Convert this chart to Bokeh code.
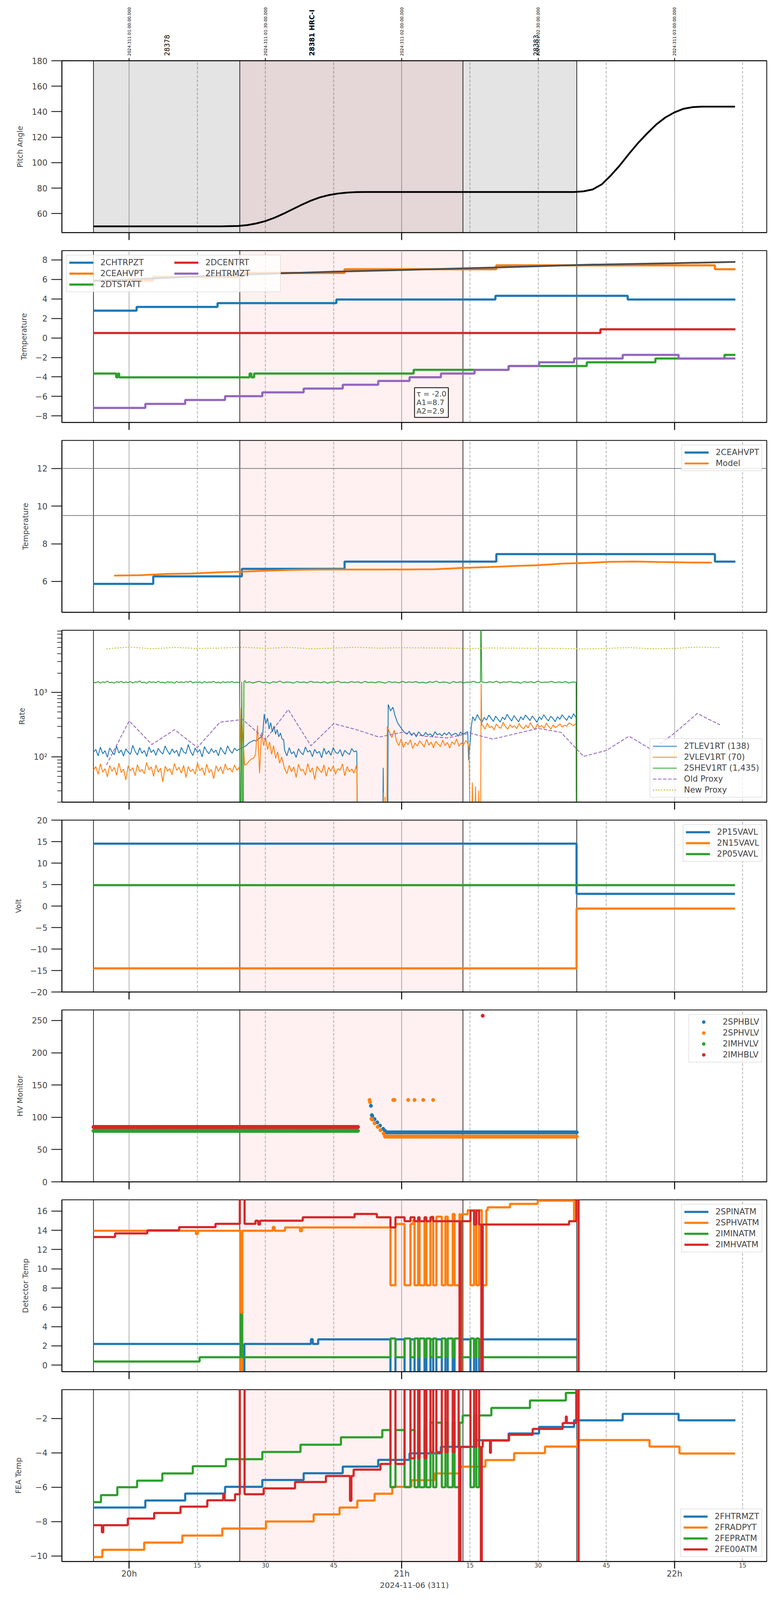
import math
import bisect
import numpy as np
from bokeh.plotting import figure
from bokeh.layouts import column
from bokeh.models import (FixedTicker, LinearAxis, Range1d, Span, BoxAnnotation,
                          Label, Legend, LegendItem)
from bokeh.core.properties import value
from bokeh.embed import file_html
from bokeh.resources import INLINE

FONT = "DejaVu Sans"
BLUE, ORANGE, GREEN, RED, PURPLE, OLIVE = "#1f77b4", "#ff7f0e", "#2ca02c", "#d62728", "#9467bd", "#bcbd22"
NAN = float("nan")

# ---------------- time axis (minutes after 2024-11-06 20:00) ----------------
X_RANGE = (-14.8, 140.3)
HOUR_TICKS = [0, 60, 120]
HOUR_LABELS = ["20h", "21h", "22h"]
MINUTE_TICKS = [15, 30, 45, 75, 90, 105, 135]
MINUTE_LABELS = ["15", "30", "45", "15", "30", "45", "15"]
TOP_TICKS = [0, 30, 60, 90, 120]
TOP_LABELS = ["2024:311:01:00:00.000", "2024:311:01:30:00.000", "2024:311:02:00:00.000",
              "2024:311:02:30:00.000", "2024:311:03:00:00.000"]
DATE_LABEL = "2024-11-06 (311)"

OBS_EDGES = [-7.85, 24.35, 73.45, 98.5]
GRAY_SPAN = (-7.85, 98.5)
HRC_SPAN = (24.35, 73.45)
OBSIDS = ["28378", "28381 HRC-I", "28383"]
OBSID_X = [8.3, 40.2, 89.5]
OBSID_BOLD = [False, True, False]

# ---------------- panel 1: pitch ----------------
PITCH_T = [-7.85, 20, 24, 26, 28, 30, 32, 34, 36, 38, 40, 42, 44, 46, 48, 50, 52, 98,
           100, 102, 104, 106, 108, 110, 112, 114, 116, 118, 120, 122, 124, 126, 133.3]
PITCH_V = [50, 50, 50.3, 51, 52.3, 54.2, 56.8, 60, 63.5, 67, 70.2, 72.8, 74.6, 75.8, 76.5, 76.9, 77, 77,
           77.5, 79, 83, 90, 98, 107, 115.5, 123, 130, 135.5, 139.5, 142.3, 143.6, 144, 144]

# ---------------- panel 2: temperatures ----------------
CHTRPZT_T = [-7.85, 1.64, 19.45, 45.6, 80.6, 109.7, 133.4]
CHTRPZT_V = [2.8, 3.18, 3.57, 3.94, 4.32, 3.94]
CEAHVPT_T = [-7.85, 5.3, 24.8, 47.4, 80.8, 128.9, 133.4]
CEAHVPT_V = [5.87, 6.27, 6.67, 7.05, 7.45, 7.05]
DTSTATT_T = [-7.85, -2.85, -2.5, -2.2, 26.5, 26.9, 27.5, 62.6, 83.5, 100.7, 115.8, 131.0, 133.4]
DTSTATT_V = [-3.65, -4.04, -3.65, -4.04, -3.65, -4.04, -3.65, -3.27, -2.88, -2.5, -2.11, -1.74]
DCENTRT_T = [-7.85, 103.7, 133.4]
DCENTRT_V = [0.51, 0.89]
FHTRMZT_T = [-7.85, 3.56, 12.33, 21.1, 29.3, 38.4, 47.0, 54.8, 61.7, 68.6, 76.0, 83.5, 90.2,
             97.9, 108.6, 120.9, 133.4]
FHTRMZT_V = [-7.18, -6.77, -6.37, -5.98, -5.58, -5.19, -4.8, -4.41, -4.03, -3.65, -3.27, -2.88,
             -2.5, -2.11, -1.74, -2.11]
FIT_T = [-7.85, 5, 25, 45, 60, 80, 100, 120, 133.4]
FIT_V = [5.85, 6.1, 6.5, 6.8, 6.97, 7.22, 7.5, 7.67, 7.8]
FIT_TEXT = "τ = -2.0\nA1=8.7\nA2=2.9"

# ---------------- panel 3: 2CEAHVPT vs model ----------------
MODEL_T = [-3.3, 2.5, 8.2, 13.7, 19.2, 24.7, 30.1, 35.6, 41.1, 46.6, 56.4, 67.4, 73.4, 78.9,
           84.4, 89.9, 95.4, 100.3, 105.8, 111.2, 116.7, 122.2, 128.2]
MODEL_V = [6.31, 6.33, 6.40, 6.42, 6.48, 6.52, 6.57, 6.61, 6.63, 6.63, 6.63, 6.65, 6.72, 6.76,
           6.82, 6.86, 6.95, 6.98, 7.04, 7.06, 7.03, 7.01, 7.0]
LIMIT_LINES = [12.0, 9.5]

# ---------------- panel 4: rates ----------------
TLEV_S1 = [118, 131, 104, 142, 112, 125, 99, 137, 121, 108, 146, 115, 128, 103, 134, 119, 110, 151,
           122, 107, 139, 114, 126, 101, 143, 117, 129, 106, 136, 120, 111, 148, 124, 109, 133, 116,
           127, 102, 141, 119, 113, 156, 121, 105, 138, 118, 130, 100, 145, 123, 112, 135, 117, 128,
           104, 140, 122, 110, 149, 126, 114, 137, 125, 132]
TLEV_S2 = [150, 160, 168, 172, 178, 182, 176, 186, 195, 205, 215, 462, 330, 398, 270, 340, 245, 300,
           225, 265, 205, 235, 190, 185]
TLEV_S3 = [128, 104, 139, 112, 121, 98, 134, 117, 108, 143, 119, 126, 101, 131, 114, 122, 97, 137,
           110, 125, 106, 140, 118, 113, 130, 102, 127, 116, 109, 135, 120, 124]
TLEV_S4 = [650, 520, 590, 430, 340, 300, 265, 240, 225, 250, 215, 238, 205, 245, 222, 212, 240, 218,
           228, 208, 247, 220, 230, 212, 236, 219, 242, 214, 226, 233, 210, 244, 221, 238, 246]
TLEV_S6 = [420, 365, 455, 390, 340, 410, 372, 445, 398, 355, 430, 385, 348, 415, 378, 460, 402, 361,
           438, 392, 350, 420, 376, 447, 405, 366, 432, 388, 345, 418, 380, 452, 400, 362, 428, 394,
           353, 421, 383, 449, 407, 369, 435, 391, 470, 410]
VLEV_S1 = [62, 71, 54, 78, 58, 66, 49, 74, 60, 69, 52, 80, 57, 65, 44, 73, 61, 68, 51, 76, 59, 64,
           55, 82, 63, 70, 50, 75, 58, 67, 41, 72, 60, 66, 53, 79, 62, 69, 56, 74, 48, 71, 59, 65,
           54, 81, 61, 68, 52, 77, 57, 64, 46, 73, 60, 70, 55, 78, 63, 67, 58, 75, 62, 69]
VLEV_S3 = [75, 80, 88, 93, 95, 110, 308, 56, 240, 150, 200, 130, 170, 110, 150, 95, 120, 80, 100, 75]
VLEV_S4 = [66, 55, 74, 59, 70, 48, 77, 61, 64, 52, 79, 58, 68, 45, 72, 63, 57, 75, 50, 69, 60, 73,
           54, 66, 62, 78, 51, 71, 59, 65, 56, 74]
VLEV_S5 = [295, 240, 200, 260, 175, 150, 190, 140, 170, 155, 185, 135, 165, 148, 178, 160, 142, 188,
           152, 170, 138, 175, 158, 145, 182, 150, 168, 137, 172, 156, 190, 147, 165, 153, 180, 160]
VLEV_S7 = [310, 270, 335, 285, 300, 262, 325, 292, 278, 345, 298, 268, 318, 287, 305, 275, 330, 290,
           272, 312, 282, 340, 295, 265, 322, 288, 308, 278, 335, 298, 270, 315, 285, 302, 326, 290,
           312, 300, 338, 320, 305, 330]
SHEV_S1 = [1450, 1410, 1480, 1395, 1460, 1430, 1500, 1420, 1445, 1390, 1470, 1435, 1490, 1405, 1455,
           1425, 1475, 1400, 1465, 1440, 1510, 1415, 1450, 1385, 1480, 1430, 1460, 1410, 1495, 1420,
           1445, 1400, 1470, 1435, 1455, 1390, 1485, 1425, 1460, 1415, 1475, 1440, 1500, 1405, 1450,
           1430, 1465, 1395, 1480, 1420, 1455, 1435, 1490, 1410, 1445, 1400, 1470, 1425, 1460, 1440,
           1475, 1415, 1450, 1430]
SHEV_S3 = [1420, 1465, 1400, 1450, 1490, 1415, 1445, 1385, 1470, 1430, 1505, 1410, 1455, 1440, 1395,
           1480, 1425, 1460, 1405, 1490, 1435, 1450, 1415, 1470, 1390, 1455, 1430, 1500, 1420, 1445,
           1410, 1475, 1435, 1460, 1400, 1485, 1425, 1450, 1415, 1470, 1440, 1395, 1480, 1430, 1455,
           1405, 1490, 1420, 1460, 1435, 1475, 1410, 1445, 1400, 1470, 1430, 1500, 1415, 1455, 1440,
           1385, 1480, 1425, 1465, 1410, 1450, 1435, 1490, 1420, 1445]
SHEV_S5 = [1450, 1415, 1470, 1430, 1495, 1405, 1460, 1440, 1480, 1420, 1455, 1390, 1475, 1435, 1465,
           1410, 1500, 1425, 1450, 1440, 1485, 1415, 1460, 1430, 1470, 1405, 1455, 1445]

TLEV_SEGS = [(-7.85, 24.2, TLEV_S1), (25.8, 34.0, TLEV_S2), (34.2, 50.0, TLEV_S3),
             (50.1, 50.3, [118, 1]), (50.4, 50.4, [NAN]), (55.7, 56.1, [1, 68, 1]),
             (56.3, 56.3, [NAN]), (56.85, 56.85, [1]), (57.0, 74.5, TLEV_S4),
             (74.7, 75.3, [89, 300]), (75.6, 98.3, TLEV_S6), (98.35, 98.45, [410, 1])]
VLEV_SEGS = [(-7.85, 24.2, VLEV_S1), (24.3, 25.4, [60, 580, 200, 75]), (25.6, 34.0, VLEV_S3),
             (34.2, 50.0, VLEV_S4), (50.1, 50.3, [60, 1]), (50.4, 50.4, [NAN]),
             (55.8, 56.5, [1, 28, 1, 24, 1]), (56.55, 56.55, [NAN]), (56.65, 56.65, [1]),
             (56.8, 74.6, VLEV_S5), (74.8, 77.3, [130, 1, 40, 1, 35, 1, 30, 1]),
             (77.45, 77.6, [1370, 310]), (77.8, 98.3, VLEV_S7), (98.35, 98.45, [330, 1])]
SHEV_SEGS = [(-7.85, 24.2, SHEV_S1), (24.3, 25.5, [1440, 1, 1460, 1, 1480, 1530]),
             (25.7, 77.3, SHEV_S3), (77.4, 77.6, [20000, 1450]), (77.8, 98.3, SHEV_S5),
             (98.35, 98.45, [1440, 1])]
PROXY_T = [-5, 0, 5, 10, 15, 20, 25, 30, 35, 40, 45, 50, 55, 60, 65, 70, 75, 80, 85, 90, 95, 100,
           105, 110, 115, 120, 125, 130]
OLD_PROXY = [75, 362, 156, 265, 140, 346, 381, 185, 543, 149, 329, 265, 203, 240, 210, 197, 234,
             189, 229, 277, 241, 102, 126, 210, 129, 234, 472, 315]
NEW_PROXY = [4764, 5058, 4764, 4993, 4823, 4883, 5035, 4823, 5014, 4764, 4883, 5035, 4863, 4953,
             4903, 4883, 4804, 4903, 4863, 4843, 4823, 4723, 4823, 4973, 4764, 4823, 5058, 4973]

# ---------------- panel 5: voltages ----------------
P15_T, P15_V = [-7.85, 98.45, 133.3], [14.53, 2.83]
N15_T, N15_V = [-7.85, 98.45, 133.3], [-14.5, -0.58]
P05_T, P05_V = [-7.85, 133.3], [4.86]

# ---------------- panel 6: HV monitor (scatter) ----------------
IMHBLV_SEG, IMHBLV_PT_T, IMHBLV_PT_V = (-7.85, 50.4, 85.0), [77.8], [257.3]
IMHVLV_SEG = (-7.85, 50.4, 79.0)
SPHBLV_SEG = (56.5, 98.6, 76.7)
SPHBLV_PT_T = [53.2, 53.4, 53.5, 54.0, 54.6, 55.2, 55.9, 56.3]
SPHBLV_PT_V = [117.8, 103.4, 102.0, 97.1, 92.1, 87.1, 82.1, 79.0]
SPHVLV_SEG = (56.3, 98.6, 70.1)
SPHVLV_PT_T = [52.9, 53.0, 53.3, 53.5, 54.0, 54.7, 55.3, 56.0, 58.1, 58.4, 61.4, 62.8, 64.7, 66.9]
SPHVLV_PT_V = [126.9, 123.5, 97.5, 96.3, 90.8, 85.2, 80.1, 74.7, 126.9, 126.9, 126.9, 126.9, 126.9, 126.9]
SAMPLE_STEP = 0.2

# ---------------- panel 7: detector temps ----------------
SPIKES = [(57.5, 58.6), (60.6, 61.9), (62.8, 63.6), (63.9, 65.0), (65.4, 66.3), (66.9, 67.6),
          (68.8, 69.6), (70.1, 71.2), (71.6, 72.7), (75.1, 75.9), (76.4, 77.0)]
SPINATM_T = [-7.85, 40.0, 40.4, 41.6, 98.4]
SPINATM_V = [2.2, 2.7, 2.2, 2.68]
SPINATM_SPIKE = -1.5
SPHVATM_T = [-7.85, 14.7, 15.1, 31.6, 32.0, 34.3, 37.6, 38.0, 57.5, 62.5, 66.5, 70.1, 73.1, 74.5,
             78.9, 83.8, 89.9, 97.9, 98.4]
SPHVATM_V = [13.96, 13.6, 13.96, 14.35, 13.96, 14.3, 13.9, 14.3, 14.65, 15.05, 15.42, 15.7, 15.67,
             16.1, 16.39, 16.74, 17.09, 15.0]
SPHVATM_EXTRA = [(24.55, 24.9, -1.5), (72.75, 73.1, -1.5), (77.6, 78.6, 8.3)]
SPHVATM_SPIKE = 8.3
IMINATM_T = [-7.85, 15.5, 98.4]
IMINATM_V = [0.37, 0.82]
IMINATM_EXTRA = [(24.5, 24.85, 5.25)]
IMINATM_SPIKE = 2.77
IMHVATM_T = [-7.85, -3.1, 4.0, 11.0, 19.0, 27.8, 38.2, 49.6, 54.5, 57.5, 58.6, 75.6, 96.8, 99.4]
IMHVATM_V = [13.31, 13.68, 14.0, 14.33, 14.67, 15.0, 15.35, 15.7, 15.35, 14.3, 14.95, 14.6, 14.95]
IMHVATM_EXTRA = [(24.35, 25.4, 30), (28.4, 28.8, 14.6), (58.6, 60.6, 15.35), (61.9, 62.8, 15.35),
                 (63.6, 63.9, 15.35), (65.0, 65.4, 15.35), (66.3, 66.9, 15.35), (72.7, 73.0, -1.5),
                 (75.1, 75.9, 16.05), (76.4, 77.0, 16.05), (77.5, 77.8, -1.5), (98.4, 98.9, 30),
                 (98.9, 99.4, -1.5)]

# ---------------- panel 8: FEA temps ----------------
FRADPYT_T = [-7.85, -5.9, 3.3, 11.7, 20.5, 30.1, 40.6, 46.3, 50.2, 54.0, 57.9, 62.1, 67.2, 72.9,
             78.4, 84.7, 91.5, 98.6, 114.5, 121.1, 133.3]
FRADPYT_V = [-10.06, -9.64, -9.22, -8.81, -8.40, -7.99, -7.58, -7.18, -6.78, -6.38, -5.98, -5.59,
             -5.20, -4.81, -4.42, -4.02, -3.64, -3.26, -3.64, -4.04]
FEPRATM_T = [-7.85, -6.2, -2.6, 1.75, 7.3, 14.0, 21.3, 29.3, 37.7, 46.6, 55.7, 66.3, 73.4, 79.7,
             88.2, 96.1, 98.4, 98.5]
FEPRATM_V = [-6.87, -6.46, -6.0, -5.62, -5.20, -4.78, -4.37, -3.95, -3.53, -3.10, -2.68, -2.25,
             -1.83, -1.39, -0.96, -0.52, -2.1]
FEPRATM_SPIKE = -6.0
FE00ATM_T = [-7.85, -0.3, 5.5, 11.3, 17.2, 23.3, 29.6, 36.5, 43.3, 49.4, 55.3, 61.4, 66.3, 71.8,
             77.8, 83.6, 88.8, 95.4, 99.4]
FE00ATM_V = [-8.21, -7.82, -7.50, -7.13, -6.76, -6.41, -6.07, -5.70, -5.35, -4.98, -4.65, -4.32,
             -3.96, -3.66, -3.29, -2.95, -2.61, -2.27]
FE00ATM_EXTRA = [(-6.0, -5.7, -8.62), (20.7, 21.0, -6.38), (24.35, 25.4, 5), (48.6, 48.9, -6.79),
                 (57.5, 58.6, 5), (60.6, 61.9, 5), (62.8, 63.6, 5), (63.9, 65.0, 5), (65.4, 66.3, 5),
                 (66.9, 67.6, 5), (68.8, 69.6, 5), (70.1, 71.2, 5), (71.6, 72.5, 5),
                 (72.6, 72.9, -12), (75.1, 75.9, 5), (76.4, 77.0, 5), (77.4, 77.6, -12),
                 (79.4, 79.6, -4.0), (96.1, 96.3, -1.89), (98.4, 98.9, 5), (98.9, 99.4, -12)]

# ---------------- layout (the photographed viewport is only ~4100 px tall) ----------------
FRAME_W, FRAME_H = 1805, 440
HEADER_H, P1_TOP = 146, 9
GAP_TOP, GAP_BOTTOM, LAST_BOTTOM = 22, 24, 70
LW = 5.5          # thick telemetry lines
TXT = "21px"      # tick / legend text
AX_TXT = "19px"   # rotated axis titles


# ---------------- helpers ----------------
def overlay(breaks, vals, windows):
    pts = sorted(set(breaks) | {w[0] for w in windows} | {w[1] for w in windows})
    pts = [t for t in pts if breaks[0] <= t <= breaks[-1]]
    out = []
    for a, b in zip(pts[:-1], pts[1:]):
        mid = 0.5 * (a + b)
        v = None
        for (t0, t1, wv) in windows:
            if t0 <= mid <= t1:
                v = wv
        if v is None:
            v = vals[min(bisect.bisect_right(breaks, mid) - 1, len(vals) - 1)]
        out.append(v)
    return pts, out


def stair(breaks, vals, windows=()):
    if windows:
        breaks, vals = overlay(breaks, vals, list(windows))
    xs, ys = [], []
    for i, v in enumerate(vals):
        xs += [breaks[i], breaks[i + 1]]
        ys += [v, v]
    return xs, ys


def segments(segs):
    xs, ys = [], []
    for t0, t1, vals in segs:
        if len(vals) == 1:
            xs.append(t0)
            ys.append(vals[0])
        else:
            xs += list(np.linspace(t0, t1, len(vals)))
            ys += list(vals)
    return xs, ys


def sampled(seg, pt_t=(), pt_v=()):
    t0, t1, v = seg
    xs = list(np.arange(t0, t1 + 1e-9, SAMPLE_STEP))
    ys = [v] * len(xs)
    return xs + list(pt_t), ys + list(pt_v)


def fmt(v):
    return ("%g" % v).replace("-", "\u2212")


X_SHARED = Range1d(*X_RANGE)


def make_fig(yr, ylabel, yticks, first=False, last=False, log=False, yminor=None):
    p = figure(frame_width=FRAME_W, frame_height=FRAME_H,
               x_range=X_SHARED, y_range=Range1d(*yr),
               y_axis_type="log" if log else "linear",
               output_backend="svg", toolbar_location=None,
               min_border_left=158, min_border_right=21,
               min_border_top=P1_TOP if first else GAP_TOP,
               min_border_bottom=LAST_BOTTOM if last else GAP_BOTTOM)
    p.background_fill_color = "white"
    p.border_fill_color = "white"
    p.outline_line_color = "black"
    p.outline_line_width = 2
    p.ygrid.grid_line_color = None
    p.xgrid.ticker = FixedTicker(ticks=HOUR_TICKS, minor_ticks=MINUTE_TICKS)
    p.xgrid.grid_line_color = "#b0b0b0"
    p.xgrid.grid_line_width = 2
    p.xgrid.minor_grid_line_color = "#b0b0b0"
    p.xgrid.minor_grid_line_width = 2
    p.xgrid.minor_grid_line_dash = "7 4"

    ya = p.yaxis[0]
    ya.ticker = FixedTicker(ticks=yticks, minor_ticks=yminor or [])
    if not log:
        ya.major_label_overrides = {t: fmt(t) for t in yticks}
    ya.axis_label = ylabel
    ya.axis_label_text_font = FONT
    ya.axis_label_text_font_size = AX_TXT
    ya.axis_label_text_font_style = "normal"
    ya.axis_label_standoff = 16
    ya.major_label_text_font = FONT
    ya.major_label_text_font_size = TXT
    ya.major_label_standoff = 10
    ya.major_tick_out = 27
    ya.major_tick_in = 0
    ya.major_tick_line_width = 2
    ya.minor_tick_out = 12 if log else 0
    ya.minor_tick_in = 0
    ya.minor_tick_line_width = 1.6
    ya.axis_line_width = 2

    xa = p.xaxis[0]
    xa.axis_line_width = 2
    if not last:
        xa.ticker = FixedTicker(ticks=HOUR_TICKS)
        xa.major_label_overrides = {t: "" for t in HOUR_TICKS}
        xa.major_label_text_font_size = "1px"
        xa.major_label_standoff = 0
        xa.major_tick_out = 19
        xa.major_tick_in = 0
        xa.major_tick_line_width = 2.5
        xa.minor_tick_out = 0
        xa.minor_tick_in = 0
    else:
        xa.ticker = FixedTicker(ticks=MINUTE_TICKS)
        xa.major_label_overrides = dict(zip(MINUTE_TICKS, MINUTE_LABELS))
        xa.major_label_text_font = FONT
        xa.major_label_text_font_size = "15px"
        xa.major_label_standoff = 3
        xa.major_tick_out = 0
        xa.major_tick_in = 0
        xa.minor_tick_out = 0
        xa.minor_tick_in = 0
        xb = LinearAxis(ticker=FixedTicker(ticks=HOUR_TICKS),
                        major_label_overrides=dict(zip(HOUR_TICKS, HOUR_LABELS)),
                        major_label_text_font=FONT, major_label_text_font_size=TXT,
                        major_tick_in=20, major_tick_out=0, major_tick_line_width=2.5,
                        minor_tick_in=0, minor_tick_out=0,
                        axis_line_color=None, major_label_standoff=1,
                        axis_label=DATE_LABEL, axis_label_text_font=FONT,
                        axis_label_text_font_size="20px", axis_label_text_font_style="normal",
                        axis_label_standoff=2)
        p.add_layout(xb, "below")

    if first:
        p.add_layout(BoxAnnotation(left=GRAY_SPAN[0], right=GRAY_SPAN[1], fill_color="black",
                                   fill_alpha=0.105, line_color=None, level="underlay"))
    p.add_layout(BoxAnnotation(left=HRC_SPAN[0], right=HRC_SPAN[1], fill_color="red",
                               fill_alpha=0.055, line_color=None, level="underlay"))
    for t in OBS_EDGES:
        p.add_layout(Span(location=t, dimension="height", line_color="black",
                          line_width=1.6, level="underlay"))
    return p


def add_legend(p, items, location, ncols=None, label_width=20):
    kw = dict(ncols=ncols) if ncols else {}
    lg = Legend(items=[LegendItem(label=l, renderers=[r]) for l, r in items],
                location=location, label_text_font=FONT, label_text_font_size=TXT,
                glyph_width=62, glyph_height=20, label_height=20, label_standoff=18,
                label_width=label_width, spacing=4, padding=6, margin=11,
                border_line_color="#cccccc", border_line_width=2,
                background_fill_color="white", background_fill_alpha=0.8, **kw)
    p.add_layout(lg)
    return lg


figs = []

# ---- header: UTC tick labels and obsids above panel 1 ----
hdr = figure(frame_width=FRAME_W, frame_height=HEADER_H, x_range=X_SHARED,
             y_range=Range1d(0, HEADER_H), output_backend="svg", toolbar_location=None,
             x_axis_location=None, y_axis_location=None,
             min_border_left=158, min_border_right=21, min_border_top=0, min_border_bottom=0)
hdr.outline_line_color = None
hdr.grid.visible = False
hdr.background_fill_color = "white"
hdr.border_fill_color = "white"
hdr.text(x=TOP_TICKS, y=[3.5] * len(TOP_TICKS), text=TOP_LABELS, angle=math.pi / 2,
         text_align="left", text_baseline="middle", text_font=value(FONT),
         text_font_size="10.5px", text_color="black")
for name, x, bold in zip(OBSIDS, OBSID_X, OBSID_BOLD):
    hdr.text(x=[x], y=[3.5], text=[name], angle=math.pi / 2, text_align="left",
             text_baseline="middle", text_font=value(FONT), text_font_size="17px",
             text_font_style="bold" if bold else "normal", text_color="black")
figs.append(hdr)

# ---- panel 1 ----
p1 = make_fig((45.1, 180), "Pitch Angle", [60, 80, 100, 120, 140, 160, 180], first=True)
top = LinearAxis(ticker=FixedTicker(ticks=TOP_TICKS),
                 major_label_overrides={t: "" for t in TOP_TICKS},
                 major_label_text_font_size="1px",
                 major_tick_out=7, major_tick_in=0, major_tick_line_width=2,
                 minor_tick_out=0, minor_tick_in=0, major_label_standoff=0, axis_line_width=2)
p1.add_layout(top, "above")
p1.line(PITCH_T, PITCH_V, line_color="black", line_width=4.5)
figs.append(p1)

# ---- panel 2 ----
p2 = make_fig((-8.67, 8.96), "Temperature", [-8, -6, -4, -2, 0, 2, 4, 6, 8])
r_ch = p2.line(*stair(CHTRPZT_T, CHTRPZT_V), line_color=BLUE, line_width=LW)
r_ce = p2.line(*stair(CEAHVPT_T, CEAHVPT_V), line_color=ORANGE, line_width=LW)
r_dt = p2.line(*stair(DTSTATT_T, DTSTATT_V), line_color=GREEN, line_width=LW)
r_dc = p2.line(*stair(DCENTRT_T, DCENTRT_V), line_color=RED, line_width=LW)
r_fh = p2.line(*stair(FHTRMZT_T, FHTRMZT_V), line_color=PURPLE, line_width=LW)
p2.line(FIT_T, FIT_V, line_color="#4d4d4d", line_width=4.5)
add_legend(p2, [("2CHTRPZT", r_ch), ("2CEAHVPT", r_ce), ("2DTSTATT", r_dt),
                ("2DCENTRT", r_dc), ("2FHTRMZT", r_fh)], "top_left", ncols=2, label_width=185)
p2.add_layout(Label(x=62.8, y=-5.1, text=FIT_TEXT, text_align="left", text_baseline="top",
                    text_font=FONT, text_font_size="19px", text_line_height=1.0, padding=5,
                    border_line_color="black", border_line_width=2,
                    background_fill_color="white"))
figs.append(p2)

# ---- panel 3 ----
p3 = make_fig((4.36, 13.49), "Temperature", [6, 8, 10, 12])
for yv in LIMIT_LINES:
    p3.add_layout(Span(location=yv, dimension="width", line_color="#808080", line_width=2))
r3a = p3.line(*stair(CEAHVPT_T, CEAHVPT_V), line_color=BLUE, line_width=LW)
r3b = p3.line(MODEL_T, MODEL_V, line_color=ORANGE, line_width=4.5)
add_legend(p3, [("2CEAHVPT", r3a), ("Model", r3b)], "top_right")
figs.append(p3)

# ---- panel 4 ----
minor_log = [20, 30, 40, 50, 60, 70, 80, 90, 200, 300, 400, 500, 600, 700, 800, 900,
             2000, 3000, 4000, 5000, 6000, 7000, 8000, 9000]
p4 = make_fig((19.9, 9220), "Rate", [100, 1000], log=True, yminor=minor_log)
p4.yaxis[0].major_label_overrides = {100: "10\u00b2", 1000: "10\u00b3"}
r4a = p4.line(*segments(TLEV_SEGS), line_color=BLUE, line_width=2.2)
r4b = p4.line(*segments(VLEV_SEGS), line_color=ORANGE, line_width=2.2)
r4c = p4.line(*segments(SHEV_SEGS), line_color=GREEN, line_width=2.2)
r4d = p4.line(PROXY_T, OLD_PROXY, line_color=PURPLE, line_width=2.2, line_dash="9 4")
r4e = p4.line(PROXY_T, NEW_PROXY, line_color=OLIVE, line_width=2.4, line_dash="3 4")
add_legend(p4, [("2TLEV1RT (138)", r4a), ("2VLEV1RT (70)", r4b), ("2SHEV1RT (1,435)", r4c),
                ("Old Proxy", r4d), ("New Proxy", r4e)], "bottom_right")
figs.append(p4)

# ---- panel 5 ----
p5 = make_fig((-20, 20), "Volt", [-20, -15, -10, -5, 0, 5, 10, 15, 20])
r5a = p5.line(*stair(P15_T, P15_V), line_color=BLUE, line_width=LW)
r5b = p5.line(*stair(N15_T, N15_V), line_color=ORANGE, line_width=LW)
r5c = p5.line(*stair(P05_T, P05_V), line_color=GREEN, line_width=LW)
add_legend(p5, [("2P15VAVL", r5a), ("2N15VAVL", r5b), ("2P05VAVL", r5c)], "top_right")
figs.append(p5)

# ---- panel 6 ----
p6 = make_fig((0, 266.3), "HV Monitor", [0, 50, 100, 150, 200, 250])
x, y = sampled(SPHBLV_SEG, SPHBLV_PT_T, SPHBLV_PT_V)
r6a = p6.scatter(x, y, size=9, fill_color=BLUE, line_color=BLUE)
x, y = sampled(SPHVLV_SEG, SPHVLV_PT_T, SPHVLV_PT_V)
r6b = p6.scatter(x, y, size=9, fill_color=ORANGE, line_color=ORANGE)
x, y = sampled(IMHVLV_SEG)
r6c = p6.scatter(x, y, size=9, fill_color=GREEN, line_color=GREEN)
x, y = sampled(IMHBLV_SEG, IMHBLV_PT_T, IMHBLV_PT_V)
r6d = p6.scatter(x, y, size=9, fill_color=RED, line_color=RED)
add_legend(p6, [("2SPHBLV", r6a), ("2SPHVLV", r6b), ("2IMHVLV", r6c), ("2IMHBLV", r6d)], "top_right")
figs.append(p6)

# ---- panel 7 ----
p7 = make_fig((-0.68, 17.17), "Detector Temp", [0, 2, 4, 6, 8, 10, 12, 14, 16])
w_blue = [(24.95, 25.35, SPINATM_SPIKE)] + [(a, b, SPINATM_SPIKE) for a, b in SPIKES]
r7a = p7.line(*stair(SPINATM_T, SPINATM_V, w_blue), line_color=BLUE, line_width=LW)
w_or = [(a, b, SPHVATM_SPIKE) for a, b in SPIKES] + SPHVATM_EXTRA
r7b = p7.line(*stair(SPHVATM_T, SPHVATM_V, w_or), line_color=ORANGE, line_width=LW)
w_gr = IMINATM_EXTRA + [(a, b, IMINATM_SPIKE) for a, b in SPIKES]
r7c = p7.line(*stair(IMINATM_T, IMINATM_V, w_gr), line_color=GREEN, line_width=LW)
r7d = p7.line(*stair(IMHVATM_T, IMHVATM_V, IMHVATM_EXTRA), line_color=RED, line_width=LW)
add_legend(p7, [("2SPINATM", r7a), ("2SPHVATM", r7b), ("2IMINATM", r7c), ("2IMHVATM", r7d)], "top_right")
figs.append(p7)

# ---- panel 8 ----
p8 = make_fig((-10.32, -0.33), "FEA Temp", [-10, -8, -6, -4, -2], last=True)
r8a = p8.line(*stair(FHTRMZT_T, FHTRMZT_V), line_color=BLUE, line_width=LW)
r8b = p8.line(*stair(FRADPYT_T, FRADPYT_V), line_color=ORANGE, line_width=LW)
w_fe = [(a, b, FEPRATM_SPIKE) for a, b in SPIKES]
r8c = p8.line(*stair(FEPRATM_T, FEPRATM_V, w_fe), line_color=GREEN, line_width=LW)
r8d = p8.line(*stair(FE00ATM_T, FE00ATM_V, FE00ATM_EXTRA), line_color=RED, line_width=LW)
add_legend(p8, [("2FHTRMZT", r8a), ("2FRADPYT", r8b), ("2FEPRATM", r8c), ("2FE00ATM", r8d)], "bottom_right")
figs.append(p8)

layout = column(*figs, spacing=0)
open("out.html", "w").write(file_html(layout, INLINE))
